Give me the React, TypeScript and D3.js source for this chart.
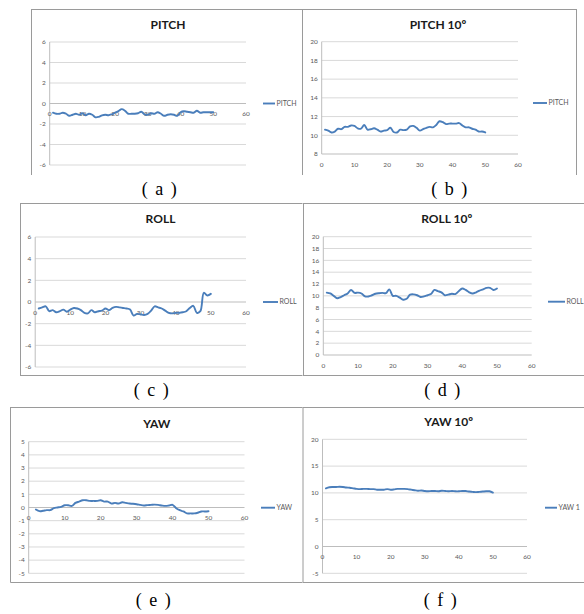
import React from 'react';
import * as d3 from 'd3';

// ---------- DATA ----------
const xTicks = [0, 10, 20, 30, 40, 50, 60];
const samples = [1,2,3,4,5,6,7,8,9,10,11,12,13,14,15,16,17,18,19,20,21,22,23,24,25,26,27,28,29,30,31,32,33,34,35,36,37,38,39,40,41,42,43,44,45,46,47,48,49,50];
const yawSamples = [2,3,4,5,6,7,8,9,10,11,12,13,14,15,16,17,18,19,20,21,22,23,24,25,26,27,28,29,30,31,32,33,34,35,36,37,38,39,40,41,42,43,44,45,46,47,48,49,50];

const pitch = [-0.9,-1.0,-1.0,-0.9,-1.0,-1.2,-1.1,-1.0,-1.1,-0.95,-1.15,-1.0,-1.1,-1.35,-1.3,-1.15,-1.1,-1.15,-1.05,-0.9,-0.75,-0.55,-0.7,-1.0,-1.0,-1.0,-0.95,-0.8,-1.05,-1.1,-0.95,-1.0,-0.85,-1.0,-1.2,-1.1,-1.05,-1.1,-1.2,-0.85,-0.75,-0.8,-0.85,-0.9,-0.7,-0.9,-0.85,-0.85,-0.85,-0.85];
const pitch10 = [10.6,10.5,10.3,10.4,10.7,10.65,10.9,10.9,11.05,11.0,10.75,10.7,11.1,10.6,10.65,10.75,10.6,10.4,10.5,10.55,10.8,10.35,10.3,10.6,10.55,10.6,10.95,11.0,10.8,10.5,10.65,10.8,10.9,10.85,11.1,11.5,11.4,11.2,11.25,11.25,11.25,11.3,11.05,10.85,10.85,10.7,10.6,10.4,10.4,10.3];
const roll = [-0.6,-0.5,-0.4,-0.85,-0.75,-0.95,-0.85,-0.7,-0.9,-0.7,-0.55,-0.6,-0.75,-1.0,-1.05,-0.75,-0.95,-0.85,-0.8,-0.6,-0.75,-0.55,-0.45,-0.5,-0.55,-0.6,-0.7,-1.25,-1.1,-1.15,-1.2,-1.1,-0.8,-0.4,-0.5,-0.6,-0.8,-1.0,-1.05,-1.0,-1.0,-0.95,-0.85,-0.55,-0.35,-1.0,-0.85,0.85,0.6,0.75];
const roll10 = [10.55,10.4,10.0,9.6,9.8,10.1,10.4,11.0,10.5,10.55,10.4,9.9,9.9,10.1,10.35,10.45,10.5,10.45,11.1,10.0,10.0,9.7,9.35,9.5,10.2,10.25,10.1,9.8,9.9,10.1,10.3,11.0,10.8,10.6,10.1,10.2,10.35,10.3,10.8,11.25,11.0,10.6,10.4,10.6,10.9,11.1,11.35,11.35,11.0,11.25];
const yaw = [-0.15,-0.28,-0.25,-0.2,-0.2,-0.05,0.0,0.05,0.17,0.17,0.12,0.35,0.45,0.55,0.55,0.5,0.5,0.5,0.55,0.45,0.45,0.3,0.35,0.3,0.4,0.35,0.3,0.28,0.25,0.2,0.15,0.18,0.2,0.22,0.2,0.15,0.12,0.15,0.2,-0.05,-0.2,-0.3,-0.45,-0.45,-0.45,-0.4,-0.3,-0.3,-0.28];
const yaw10 = [10.85,11.05,11.1,11.1,11.15,11.1,11.0,10.95,10.85,10.75,10.7,10.75,10.75,10.7,10.7,10.6,10.6,10.6,10.7,10.6,10.65,10.75,10.75,10.75,10.7,10.6,10.5,10.4,10.45,10.35,10.3,10.35,10.35,10.3,10.4,10.35,10.3,10.35,10.3,10.3,10.35,10.35,10.25,10.2,10.15,10.2,10.25,10.3,10.3,10.05];

const yTicksSmall = [-6, -4, -2, 0, 2, 4, 6];
const yTicksPitch10 = [8, 10, 12, 14, 16, 18, 20];
const yTicksRoll10 = [0, 2, 4, 6, 8, 10, 12, 14, 16, 18, 20];
const yTicksYaw = [-5, -4, -3, -2, -1, 0, 1, 2, 3, 4, 5];
const yTicksYaw10 = [-5, 0, 5, 10, 15, 20];

const titles = ['PITCH', 'PITCH 10º', 'ROLL', 'ROLL 10º', 'YAW', 'YAW 10º'];
const legendNames = ['PITCH', 'PITCH', 'ROLL', 'ROLL', 'YAW', 'YAW 1'];
const captions = ['( a )', '( b )', '( c )', '( d )', '( e )', '( f )'];

// ---------- LAYOUT ----------
const LINE = '#4a7ebb';
const GRID = '#d9d9d9';
const AXIS = '#bdbdbd';
const BORDER = '#9a9a9a';
const TICK_COLOR = '#595959';
const FONT = 'Lato, "Open Sans", sans-serif';

type PanelCfg = {
  xr: [number, number];
  yr: [number, number];
  yd: [number, number];
  yTicks: number[];
  xAxisAt: number;
  title: string;
  titleX: number;
  titleY: number;
  legendX: number;
  legendY: number;
  legendLen: number;
  legendName: string;
  xs: number[];
  ys: number[];
};

const panels: PanelCfg[] = [
  { xr: [49.7, 246], yr: [165, 42], yd: [-6, 6], yTicks: yTicksSmall, xAxisAt: 0, title: titles[0], titleX: 168, titleY: 28.5, legendX: 263, legendY: 103.5, legendLen: 12, legendName: legendNames[0], xs: samples, ys: pitch },
  { xr: [321.7, 518], yr: [154, 41.7], yd: [8, 20], yTicks: yTicksPitch10, xAxisAt: 8, title: titles[1], titleX: 438, titleY: 28.5, legendX: 533, legendY: 103, legendLen: 14, legendName: legendNames[1], xs: samples, ys: pitch10 },
  { xr: [35.2, 246], yr: [367, 237], yd: [-6, 6], yTicks: yTicksSmall, xAxisAt: 0, title: titles[2], titleX: 160.5, titleY: 223.3, legendX: 263, legendY: 302, legendLen: 15, legendName: legendNames[2], xs: samples, ys: roll },
  { xr: [323.3, 531.7], yr: [355, 236.7], yd: [0, 20], yTicks: yTicksRoll10, xAxisAt: 0, title: titles[3], titleX: 446.7, titleY: 223.3, legendX: 548, legendY: 301.7, legendLen: 17, legendName: legendNames[3], xs: samples, ys: roll10 },
  { xr: [28.7, 244.5], yr: [573.3, 441.7], yd: [-5, 5], yTicks: yTicksYaw, xAxisAt: 0, title: titles[4], titleX: 156.8, titleY: 428.3, legendX: 261, legendY: 507.7, legendLen: 14, legendName: legendNames[4], xs: yawSamples, ys: yaw },
  { xr: [322.5, 527], yr: [573.3, 439.3], yd: [-5, 20], yTicks: yTicksYaw10, xAxisAt: 0, title: titles[5], titleX: 448.7, titleY: 426, legendX: 545, legendY: 507.7, legendLen: 12, legendName: legendNames[5], xs: samples, ys: yaw10 },
];

const captionPos = [
  [160, 195], [450, 195], [152, 396], [443, 396], [154, 606], [441, 606],
];

function Panel({ cfg }: { cfg: PanelCfg }) {
  const x = d3.scaleLinear().domain([0, 60]).range(cfg.xr);
  const y = d3.scaleLinear().domain(cfg.yd).range(cfg.yr);
  const pts = cfg.xs.map((xv, i) => [xv, cfg.ys[i]] as [number, number]);
  const line = d3
    .line<[number, number]>()
    .x((d) => x(d[0]))
    .y((d) => y(d[1]))
    .curve(d3.curveCatmullRom.alpha(0.5));
  const axisY = y(cfg.xAxisAt);
  return (
    <g>
      {cfg.yTicks.map((t) => (
        <line key={'g' + t} x1={x(0)} x2={x(60)} y1={y(t)} y2={y(t)} stroke={t === cfg.xAxisAt ? AXIS : GRID} strokeWidth={1} />
      ))}
      <line x1={x(0)} x2={x(0)} y1={y(cfg.yd[0])} y2={y(cfg.yd[1])} stroke={AXIS} strokeWidth={1} />
      {cfg.yTicks.map((t) => (
        <text key={'yl' + t} x={x(0) - 4} y={y(t)} dy="0.35em" textAnchor="end" fontSize={6.5} fill={TICK_COLOR} fontFamily={FONT}>
          {t}
        </text>
      ))}
      {xTicks.map((t) => (
        <text key={'xl' + t} x={x(t)} y={axisY + 12.5} textAnchor="middle" fontSize={6.5} fill={TICK_COLOR} fontFamily={FONT}>
          {t}
        </text>
      ))}
      <path d={line(pts) || ''} fill="none" stroke={LINE} strokeWidth={1.9} strokeLinejoin="round" strokeLinecap="round" />
      <text x={cfg.titleX} y={cfg.titleY} textAnchor="middle" fontSize={12} fontWeight="bold" fill="#1a1a1a" fontFamily={FONT}>
        {cfg.title}
      </text>
      <line x1={cfg.legendX} x2={cfg.legendX + cfg.legendLen} y1={cfg.legendY} y2={cfg.legendY} stroke={LINE} strokeWidth={1.9} />
      <text x={cfg.legendX + cfg.legendLen + 1.5} y={cfg.legendY} dy="0.35em" fontSize={7} fill={TICK_COLOR} fontFamily={FONT}>
        {cfg.legendName}
      </text>
    </g>
  );
}

export default function App() {
  const borders: [number, number, number, number][] = [
    // (a)
    [31, 9.5, 302.5, 9.5], [31.5, 9, 31.5, 175],
    [302.5, 9, 302.5, 175],
    // (b)
    [302, 9.5, 576.5, 9.5], [576.5, 9, 576.5, 175],
    // (c)
    [20, 203.5, 302.5, 203.5], [20.5, 203, 20.5, 375.5], [20, 375.5, 302.5, 375.5],
    [303.5, 203, 303.5, 375.5],
    // (d)
    [303, 203.5, 584, 203.5], [303, 375.5, 584, 375.5],
    // (e)
    [10.5, 407.5, 302.5, 407.5], [10.5, 407, 10.5, 582.5], [10.5, 582.5, 302.5, 582.5],
    [303, 407, 303, 582.5],
    // (f)
    [303, 407.5, 584, 407.5], [303, 582.5, 584, 582.5],
  ];
  return (
    <svg width={584} height={614} style={{ position: 'absolute', left: 0, top: 0, background: '#fff' }}>
      <rect x={0} y={0} width={584} height={614} fill="#fff" />
      {borders.map((b, i) => (
        <line key={i} x1={b[0]} y1={b[1]} x2={b[2]} y2={b[3]} stroke={BORDER} strokeWidth={1} />
      ))}
      {panels.map((p, i) => (
        <Panel key={i} cfg={p} />
      ))}
      {captions.map((c, i) => (
        <text key={c} x={captionPos[i][0]} y={captionPos[i][1]} textAnchor="middle" fontSize={18} letterSpacing={1.5} fill="#000" fontFamily={'"Liberation Serif", "Times New Roman", serif'}>
          {c}
        </text>
      ))}
    </svg>
  );
}
